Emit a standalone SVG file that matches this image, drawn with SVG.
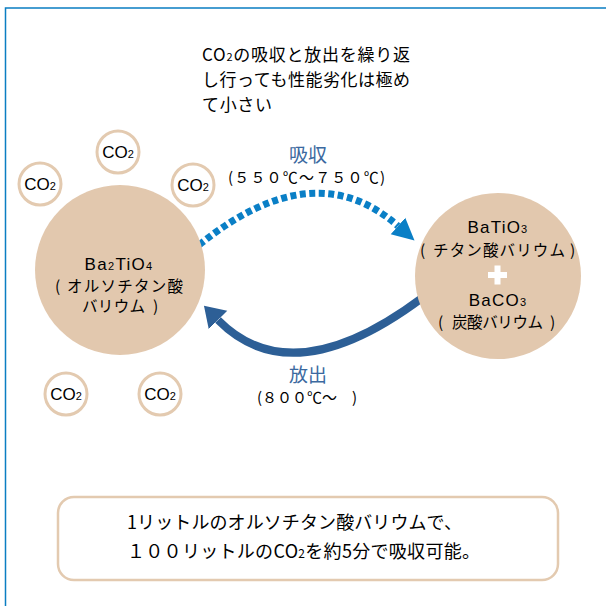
<svg xmlns="http://www.w3.org/2000/svg" width="606" height="606" viewBox="0 0 606 606">
<style>
.t{font-family:"Liberation Sans","Noto Sans CJK JP",sans-serif;fill:#000}
.j{font-family:"Noto Sans CJK JP","Liberation Sans",sans-serif;fill:#000}
.co circle{fill:#fff;stroke:#e3cab0;stroke-width:3}
.co text{font-family:"Liberation Sans",sans-serif;font-size:17px;fill:#000;text-anchor:middle}
.big{fill:#e2c8ae}
.lbl{font-family:"Noto Sans CJK JP",sans-serif;font-size:19px;fill:#3b69a0;text-anchor:middle}
</style>
<defs>
<marker id="hd" markerUnits="userSpaceOnUse" markerWidth="24" markerHeight="24" refX="0" refY="12" orient="auto"><path d="M0,1 L22,12 L0,23 z" fill="#0a7fc6"/></marker>
<marker id="hs" markerUnits="userSpaceOnUse" markerWidth="28" markerHeight="28" refX="0" refY="14" orient="auto"><path d="M0,1 L20,14 L0,27 z" fill="#2d5f96"/></marker>
</defs>
<rect width="606" height="606" fill="#fff"/>
<path d="M5.5,606 V8 H606" fill="none" stroke="#0a7ec2" stroke-width="1.5"/>
<g id="caption">
<text class="j" x="202" y="61" font-size="17" textLength="208" lengthAdjust="spacing">CO<tspan font-size="11">2</tspan>の吸収と放出を繰り返</text>
<text class="j" x="202" y="86" font-size="17" textLength="208" lengthAdjust="spacing">し行っても性能劣化は極め</text>
<text class="j" x="202" y="111" font-size="17" textLength="70" lengthAdjust="spacing">て小さい</text>
</g>
<g id="connectors">
<path d="M199,245 Q314,152 398,226" fill="none" stroke="#0a7fc6" stroke-width="7" stroke-dasharray="6,3.5" marker-end="url(#hd)"/>
<path d="M422,298 Q292,395 218,320" fill="none" stroke="#2d5f96" stroke-width="8" marker-end="url(#hs)"/>
<text class="lbl" x="308" y="162">吸収</text>
<text class="j" x="228" y="183" font-size="15" textLength="157" lengthAdjust="spacing">(５５０℃～７５０℃)</text>
<text class="lbl" x="308" y="382">放出</text>
<text class="j" x="257" y="403" font-size="15" textLength="100" lengthAdjust="spacing">(８００℃～　)</text>
</g>
<g id="ortho">
<circle class="big" cx="120" cy="270" r="85"/>
<text class="t" x="119" y="270" font-size="17" text-anchor="middle" letter-spacing="1.3">Ba<tspan font-size="11">2</tspan>TiO<tspan font-size="11">4</tspan></text>
<text class="j" x="55" y="292" font-size="15.5">(</text>
<text class="j" x="67" y="292" font-size="15.5" textLength="116" lengthAdjust="spacing">オルソチタン酸</text>
<text class="j" x="82" y="312" font-size="15.5" textLength="63" lengthAdjust="spacing">バリウム</text>
<text class="j" x="153" y="312" font-size="15.5">)</text>
</g>
<g id="titanate">
<circle class="big" cx="498" cy="276" r="83"/>
<text class="t" x="498" y="233" font-size="17" text-anchor="middle" letter-spacing="1.2">BaTiO<tspan font-size="11">3</tspan></text>
<text class="j" x="420" y="256" font-size="15.5">(</text>
<text class="j" x="433" y="256" font-size="15.5" textLength="132" lengthAdjust="spacing">チタン酸バリウム</text>
<text class="j" x="570" y="256" font-size="15.5">)</text>
<path d="M488,275 H507 M497.5,265.5 V284.5" stroke="#fff" stroke-width="6"/>
<text class="t" x="498" y="306" font-size="17" text-anchor="middle" letter-spacing="1.2">BaCO<tspan font-size="11">3</tspan></text>
<text class="j" x="438" y="328" font-size="15.5">(</text>
<text class="j" x="452" y="328" font-size="15.5" textLength="91" lengthAdjust="spacing">炭酸バリウム</text>
<text class="j" x="550" y="328" font-size="15.5">)</text>
</g>
<g id="co2a" class="co"><circle cx="40" cy="184" r="21"/><text x="40" y="190">CO<tspan font-size="11">2</tspan></text></g>
<g id="co2b" class="co"><circle cx="118" cy="152" r="21"/><text x="118" y="158">CO<tspan font-size="11">2</tspan></text></g>
<g id="co2c" class="co"><circle cx="193" cy="185" r="21"/><text x="193" y="191">CO<tspan font-size="11">2</tspan></text></g>
<g id="co2d" class="co"><circle cx="66" cy="394" r="21"/><text x="66" y="400">CO<tspan font-size="11">2</tspan></text></g>
<g id="co2e" class="co"><circle cx="160" cy="394" r="21"/><text x="160" y="400">CO<tspan font-size="11">2</tspan></text></g>
<g id="note">
<rect x="58" y="497" width="500" height="83" rx="16" fill="#fff" stroke="#e3cab0" stroke-width="2.5"/>
<text class="j" x="127" y="529" font-size="18" textLength="335" lengthAdjust="spacing">1リットルのオルソチタン酸バリウムで、</text>
<text class="j" x="127" y="558" font-size="18" textLength="353" lengthAdjust="spacing">１００リットルのCO<tspan font-size="12">2</tspan>を約5分で吸収可能。</text>
</g>
</svg>
